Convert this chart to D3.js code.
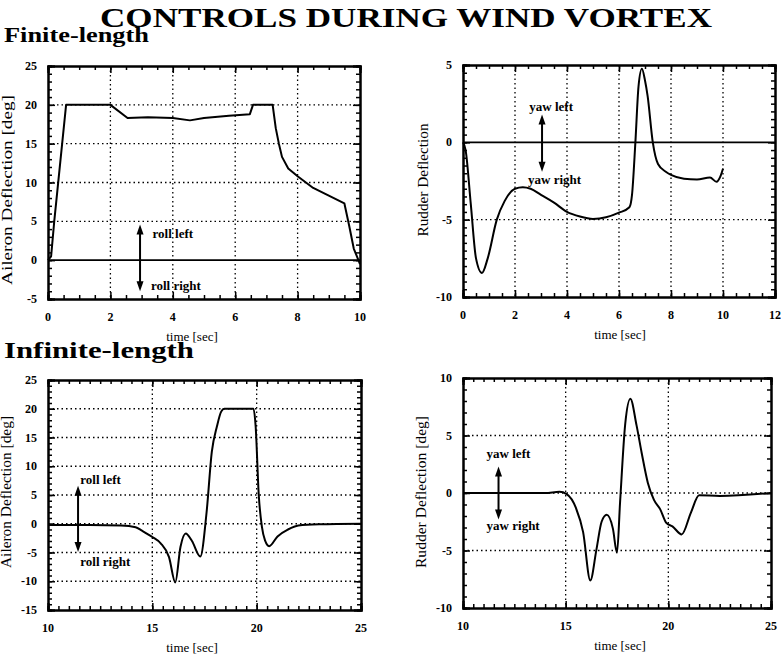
<!DOCTYPE html>
<html>
<head>
<meta charset="utf-8">
<script src="https://cdn.jsdelivr.net/npm/d3@7"></script>
<style>
  body { margin: 0; background: #fff; }
  text { font-family: "Liberation Serif", "Times New Roman", serif; fill: #000; }
</style>
</head>
<body>
<div class="canvas"></div>
<script>
// finite-length vortex, aileron
const finTimeA = [0, 0.1, 0.2, 0.58, 2.0, 2.55, 3.2, 4.0, 4.55, 5.0, 5.8, 6.47, 6.57, 7.2, 7.3, 7.4, 7.5, 7.7, 8.0, 8.5, 9.0, 9.5, 9.65, 9.8, 10.0];
const finAileron = [0, 0.5, 5, 20, 20, 18.3, 18.4, 18.3, 18.0, 18.3, 18.6, 18.8, 20, 20, 17, 15, 13.3, 11.8, 10.8, 9.3, 8.3, 7.3, 4.5, 1.5, -0.5];

// finite-length vortex, rudder
const finTimeR = [0, 0.1, 0.3, 0.5, 0.73, 0.95, 1.3, 1.6, 2.0, 2.3, 2.6, 3.0, 3.5, 4.0, 4.5, 5.0, 5.5, 6.0, 6.4, 6.5, 6.63, 6.75, 6.88, 7.0, 7.1, 7.3, 7.5, 7.8, 8.0, 8.5, 9.0, 9.5, 9.75, 9.9, 10.0];
const finRudder = [0, -0.5, -4, -7.5, -8.45, -7.5, -5, -3.8, -3.0, -2.9, -3.0, -3.4, -3.9, -4.5, -4.8, -4.95, -4.85, -4.55, -4.2, -3.4, 0, 3.6, 4.75, 4.0, 3.0, 0, -1.4, -1.9, -2.1, -2.35, -2.4, -2.27, -2.55, -2.2, -1.7];

// infinite-length vortex, aileron
const infTimeA = [10, 12, 13.5, 14.2, 14.5, 15, 15.4, 15.8, 16.1, 16.35, 16.6, 16.9, 17.3, 17.6, 17.85, 18.1, 18.3, 18.45, 19.85, 19.95, 20.1, 20.25, 20.4, 20.6, 21.0, 21.5, 22, 23, 25];
const infAileron = [-0.2, -0.2, -0.3, -0.6, -1.2, -2.3, -3.4, -5.8, -10.2, -4, -1.7, -3, -5.7, 2, 12.5, 17, 19.5, 20, 20, 17, 5, -0.5, -2.9, -3.9, -2.2, -1.0, -0.3, -0.1, 0];

// infinite-length vortex, rudder
const infTimeR = [10, 14, 14.7, 15.05, 15.5, 15.85, 16.2, 16.5, 16.75, 17.0, 17.3, 17.5, 17.65, 17.9, 18.15, 18.45, 18.7, 19.0, 19.3, 19.6, 19.9, 20.2, 20.65, 21.1, 21.5, 22.5, 25];
const infRudder = [0, 0, 0.1, -0.1, -1.3, -3.4, -7.6, -4.9, -2.5, -1.9, -3.1, -5.2, -0.8, 6.0, 8.2, 5.9, 3.5, 0.9, -0.6, -1.4, -2.6, -2.9, -3.6, -1.7, -0.2, -0.25, 0];

// axis ticks
const finTicksX = [0, 2, 4, 6, 8, 10];
const finTicksX2 = [0, 2, 4, 6, 8, 10, 12];
const infTicksX = [10, 15, 20, 25];
const aileronTicksFin = [-5, 0, 5, 10, 15, 20, 25];
const rudderTicksFin = [-10, -5, 0, 5];
const aileronTicksInf = [-15, -10, -5, 0, 5, 10, 15, 20, 25];
const rudderTicksInf = [-10, -5, 0, 5, 10];

const svg = d3.select('.canvas').append('svg')
    .attr('width', 781)
    .attr('height', 656)

svg.append('text')
    .attr('x', 100).attr('y', 27)
    .attr('font-size', 28).attr('font-weight', 'bold')
    .attr('textLength', 612).attr('lengthAdjust', 'spacingAndGlyphs')
    .text('CONTROLS DURING WIND VORTEX')

svg.append('text')
    .attr('x', 4).attr('y', 42)
    .attr('font-size', 22).attr('font-weight', 'bold')
    .attr('textLength', 145).attr('lengthAdjust', 'spacingAndGlyphs')
    .text('Finite-length')

svg.append('text')
    .attr('x', 4).attr('y', 358)
    .attr('font-size', 24).attr('font-weight', 'bold')
    .attr('textLength', 190).attr('lengthAdjust', 'spacingAndGlyphs')
    .text('Infinite-length')

function drawPanel(p) {
    const x = d3.scaleLinear().domain(p.xDomain).range([p.left, p.right])
    const y = d3.scaleLinear().domain(p.yDomain).range([p.bottom, p.top])
    const g = svg.append('g')

    // dotted grid
    g.selectAll('.gx').data(p.xTicks.slice(1, -1)).enter().append('line')
        .attr('x1', d => x(d)).attr('x2', d => x(d))
        .attr('y1', p.top).attr('y2', p.bottom)
        .attr('stroke', '#000').attr('stroke-width', 1.3).attr('stroke-dasharray', '1.5,3')
    g.selectAll('.gy').data(p.yTicks.slice(1, -1).filter(d => !(p.solidZero && d === 0))).enter().append('line')
        .attr('y1', d => y(d)).attr('y2', d => y(d))
        .attr('x1', p.left).attr('x2', p.right)
        .attr('stroke', '#000').attr('stroke-width', 1.3).attr('stroke-dasharray', '1.5,3')
    if (p.solidZero) {
        g.append('line')
            .attr('x1', p.left).attr('x2', p.right)
            .attr('y1', y(0)).attr('y2', y(0))
            .attr('stroke', '#000').attr('stroke-width', 1.6)
    }

    // axes with inward ticks on all sides
    const minorX = d3.range(p.xDomain[0], p.xDomain[1] + 1e-9, p.xMinor)
    const minorY = d3.range(p.yDomain[0], p.yDomain[1] + 1e-9, p.yMinor)
    const axes = [
        [d3.axisBottom(x).tickValues(minorX).tickSize(-4).tickFormat(''), `translate(0,${p.bottom})`],
        [d3.axisTop(x).tickValues(minorX).tickSize(-4).tickFormat(''), `translate(0,${p.top})`],
        [d3.axisLeft(y).tickValues(minorY).tickSize(-4).tickFormat(''), `translate(${p.left},0)`],
        [d3.axisRight(y).tickValues(minorY).tickSize(-4).tickFormat(''), `translate(${p.right},0)`],
        [d3.axisBottom(x).tickValues(p.xTicks).tickSize(-7).tickFormat(''), `translate(0,${p.bottom})`],
        [d3.axisTop(x).tickValues(p.xTicks).tickSize(-7).tickFormat(''), `translate(0,${p.top})`],
        [d3.axisLeft(y).tickValues(p.yTicks).tickSize(-7).tickFormat(''), `translate(${p.left},0)`],
        [d3.axisRight(y).tickValues(p.yTicks).tickSize(-7).tickFormat(''), `translate(${p.right},0)`]
    ]
    axes.forEach(([ax, tr]) => {
        const a = g.append('g').attr('transform', tr).call(ax)
        a.selectAll('line').attr('stroke', '#000').attr('stroke-width', 1.5)
        a.select('.domain').attr('stroke', '#000').attr('stroke-width', 2)
    })

    // tick labels
    g.selectAll('.tx').data(p.xTicks).enter().append('text')
        .attr('x', d => x(d)).attr('y', p.bottom + 22)
        .attr('text-anchor', 'middle').attr('font-size', 12).attr('font-weight', 'bold')
        .text(d => d)
    g.selectAll('.ty').data(p.yTicks).enter().append('text')
        .attr('x', p.left - 11).attr('y', d => y(d) + 4)
        .attr('text-anchor', 'end').attr('font-size', 12).attr('font-weight', 'bold')
        .text(d => d)

    // axis titles
    g.append('text')
        .attr('x', p.xLabelX).attr('y', p.bottom + 42)
        .attr('text-anchor', 'middle').attr('font-size', 13)
        .text('time [sec]')
    g.append('text')
        .attr('transform', `translate(${p.yLabelX},${p.yLabelY}) rotate(-90)`)
        .attr('text-anchor', 'middle').attr('font-size', 14)
        .attr('textLength', p.yLabelLen).attr('lengthAdjust', 'spacingAndGlyphs')
        .text(p.yLabel)

    // data line
    g.append('path')
        .datum(d3.zip(p.times, p.values))
        .attr('fill', 'none').attr('stroke', '#000').attr('stroke-width', 2)
        .attr('stroke-linejoin', 'round')
        .attr('d', d3.line().x(d => x(d[0])).y(d => y(d[1])).curve(p.curve))

    // direction arrow and labels
    const ax = x(p.arrow.t)
    const y1 = y(p.arrow.top), y2 = y(p.arrow.bottom)
    g.append('line').attr('x1', ax).attr('x2', ax).attr('y1', y1 + 6).attr('y2', y2 - 6)
        .attr('stroke', '#000').attr('stroke-width', 2)
    g.append('path').attr('d', `M${ax},${y1} l-3.5,10 l7,0 z`).attr('fill', '#000')
    g.append('path').attr('d', `M${ax},${y2} l-3.5,-10 l7,0 z`).attr('fill', '#000')
    p.notes.forEach(n => {
        g.append('text')
            .attr('x', x(n.t)).attr('y', y(n.v) + 4)
            .attr('font-size', 13).attr('font-weight', 'bold')
            .text(n.text)
    })
}

drawPanel({
    left: 48, right: 360, top: 66, bottom: 299,
    xDomain: [0, 10], yDomain: [-5, 25], xMinor: 0.5, yMinor: 1,
    xTicks: finTicksX, yTicks: aileronTicksFin, solidZero: true,
    times: finTimeA, values: finAileron, curve: d3.curveLinear,
    xLabelX: 192, yLabelX: 12, yLabelY: 190, yLabelLen: 190,
    yLabel: 'Aileron Deflection [deg]',
    arrow: { t: 2.95, top: 4.6, bottom: -4.0 },
    notes: [{ t: 3.35, v: 3.4, text: 'roll left' }, { t: 3.3, v: -3.3, text: 'roll right' }]
})

drawPanel({
    left: 463, right: 775, top: 65, bottom: 297,
    xDomain: [0, 12], yDomain: [-10, 5], xMinor: 0.5, yMinor: 0.5,
    xTicks: finTicksX2, yTicks: rudderTicksFin, solidZero: true,
    times: finTimeR, values: finRudder, curve: d3.curveMonotoneX,
    xLabelX: 620, yLabelX: 428, yLabelY: 180, yLabelLen: 113,
    yLabel: 'Rudder Deflection',
    arrow: { t: 3.04, top: 1.8, bottom: -1.9 },
    notes: [{ t: 2.55, v: 2.3, text: 'yaw left' }, { t: 2.5, v: -2.45, text: 'yaw right' }]
})

drawPanel({
    left: 48, right: 361, top: 380, bottom: 610,
    xDomain: [10, 25], yDomain: [-15, 25], xMinor: 0.5, yMinor: 1,
    xTicks: infTicksX, yTicks: aileronTicksInf, solidZero: false,
    times: infTimeA, values: infAileron, curve: d3.curveMonotoneX,
    xLabelX: 192, yLabelX: 11, yLabelY: 492, yLabelLen: 152,
    yLabel: 'Aileron Deflection [deg]',
    arrow: { t: 11.44, top: 6.6, bottom: -4.9 },
    notes: [{ t: 11.55, v: 7.6, text: 'roll left' }, { t: 11.55, v: -6.6, text: 'roll right' }]
})

drawPanel({
    left: 463, right: 771, top: 378, bottom: 608,
    xDomain: [10, 25], yDomain: [-10, 10], xMinor: 0.5, yMinor: 1,
    xTicks: infTicksX, yTicks: rudderTicksInf, solidZero: false,
    times: infTimeR, values: infRudder, curve: d3.curveMonotoneX,
    xLabelX: 620, yLabelX: 426, yLabelY: 492, yLabelLen: 152,
    yLabel: 'Rudder Deflection [deg]',
    arrow: { t: 11.73, top: 2.3, bottom: -2.3 },
    notes: [{ t: 11.15, v: 3.4, text: 'yaw left' }, { t: 11.15, v: -2.9, text: 'yaw right' }]
})
</script>
</body>
</html>
